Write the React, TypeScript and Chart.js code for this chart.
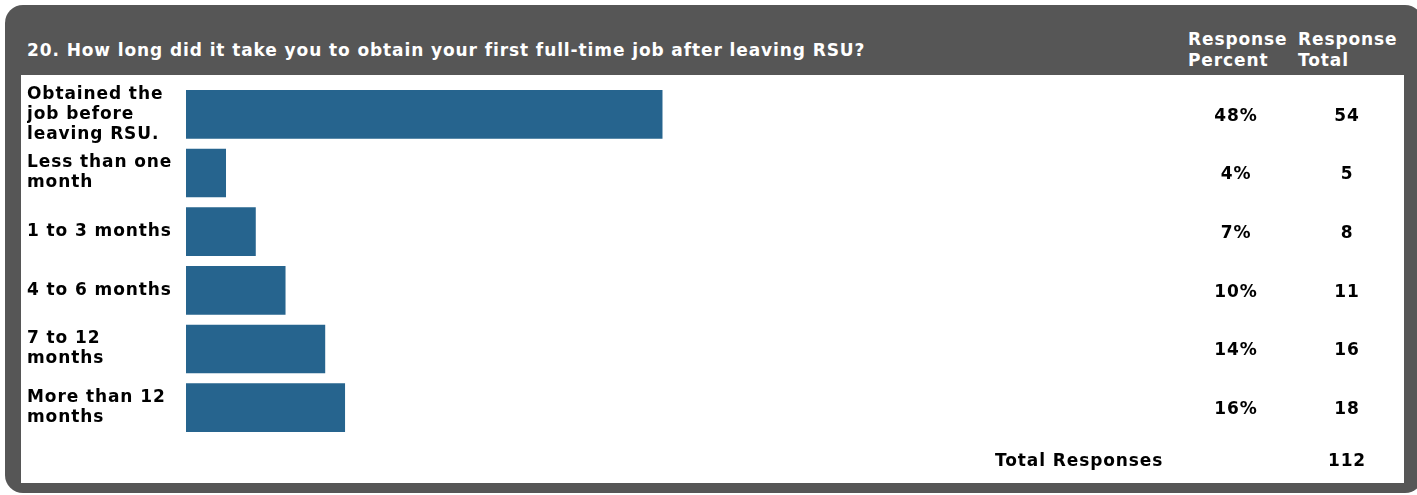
import React, { useEffect, useRef } from "react";
import Chart from "chart.js/auto";

const title = "20. How long did it take you to obtain your first full-time job after leaving RSU?";
const categories: string[][] = [
  ["Obtained the", "job before", "leaving RSU."],
  ["Less than one", "month"],
  ["1 to 3 months"],
  ["4 to 6 months"],
  ["7 to 12", "months"],
  ["More than 12", "months"],
];
const responsePercent: number[] = [48, 4, 7, 10, 14, 16];
const responseTotal: number[] = [54, 5, 8, 11, 16, 18];
const totalResponses = 112;

const FONT = '"DejaVu Sans", Verdana, sans-serif';
const BAR = "#26648e";
const FRAME = "#565656";
const SPACING = "0.9px";

export default function App() {
  const ref = useRef<HTMLCanvasElement | null>(null);
  useEffect(() => {
    if (!ref.current) return;
    const spacingPlugin = {
      id: "spacing",
      beforeUpdate(chart: any) {
        chart.ctx.letterSpacing = SPACING;
      },
      beforeDraw(chart: any) {
        chart.ctx.letterSpacing = SPACING;
      },
    };
    const valuesPlugin = {
      id: "values",
      afterDatasetsDraw(chart: any) {
        const ctx = chart.ctx;
        const y = chart.scales.y;
        ctx.save();
        ctx.letterSpacing = SPACING;
        ctx.fillStyle = "#000";
        ctx.font = `bold 17px ${FONT}`;
        ctx.textAlign = "center";
        ctx.textBaseline = "middle";
        responsePercent.forEach((p, i) => {
          const py = y.getPixelForValue(i) + 2;
          ctx.fillText(p + "%", 1215, py);
          ctx.fillText(String(responseTotal[i]), 1326, py);
        });
        ctx.restore();
      },
    };
    const chart = new Chart(ref.current, {
      type: "bar",
      data: {
        labels: categories,
        datasets: [
          {
            data: responsePercent,
            backgroundColor: BAR,
            borderWidth: 0,
            barThickness: 48,
          },
        ],
      },
      options: {
        indexAxis: "y",
        animation: false,
        responsive: false,
        maintainAspectRatio: false,
        layout: { padding: { left: 6, top: 10, bottom: 46, right: 226 } },
        plugins: { legend: { display: false }, tooltip: { enabled: false } },
        scales: {
          x: { display: false, min: 0, max: 100 },
          y: {
            type: "category",
            grid: { display: false },
            border: { display: false },
            afterFit(scale: any) {
              scale.width = 159;
              scale.paddingTop = 0;
              scale.paddingBottom = 0;
            },
            ticks: {
              autoSkip: false,
              crossAlign: "far",
              padding: 0,
              color: "#000",
              font: { family: FONT, size: 17, weight: "bold", lineHeight: 1.18 },
            },
          },
        },
      },
      plugins: [spacingPlugin, valuesPlugin],
    });
    return () => chart.destroy();
  }, []);

  const textBase: React.CSSProperties = {
    position: "absolute",
    fontFamily: FONT,
    fontWeight: "bold",
    fontSize: 17,
    lineHeight: "21px",
    letterSpacing: SPACING,
    whiteSpace: "nowrap",
  };

  return (
    <div style={{ position: "absolute", left: 0, top: 0, width: 1417, height: 495, overflow: "hidden", background: "#fff" }}>
      <div
        style={{
          position: "absolute",
          left: 5,
          top: 5,
          width: 1418,
          height: 488,
          background: FRAME,
          borderRadius: 18,
        }}
      />
      <div style={{ ...textBase, color: "#fff", left: 27, top: 40 }}>{title}</div>
      <div style={{ ...textBase, color: "#fff", left: 1188, top: 29 }}>
        Response
        <br />
        Percent
      </div>
      <div style={{ ...textBase, color: "#fff", left: 1298, top: 29 }}>
        Response
        <br />
        Total
      </div>
      <div style={{ position: "absolute", left: 21, top: 75, width: 1383, height: 408, background: "#fff" }}>
        <canvas ref={ref} width={1383} height={408} style={{ display: "block", width: 1383, height: 408 }} />
      </div>
      <div style={{ ...textBase, color: "#000", left: 995, top: 450 }}>Total Responses</div>
      <div style={{ ...textBase, color: "#000", left: 1307, width: 80, textAlign: "center", top: 450 }}>
        {totalResponses}
      </div>
    </div>
  );
}
